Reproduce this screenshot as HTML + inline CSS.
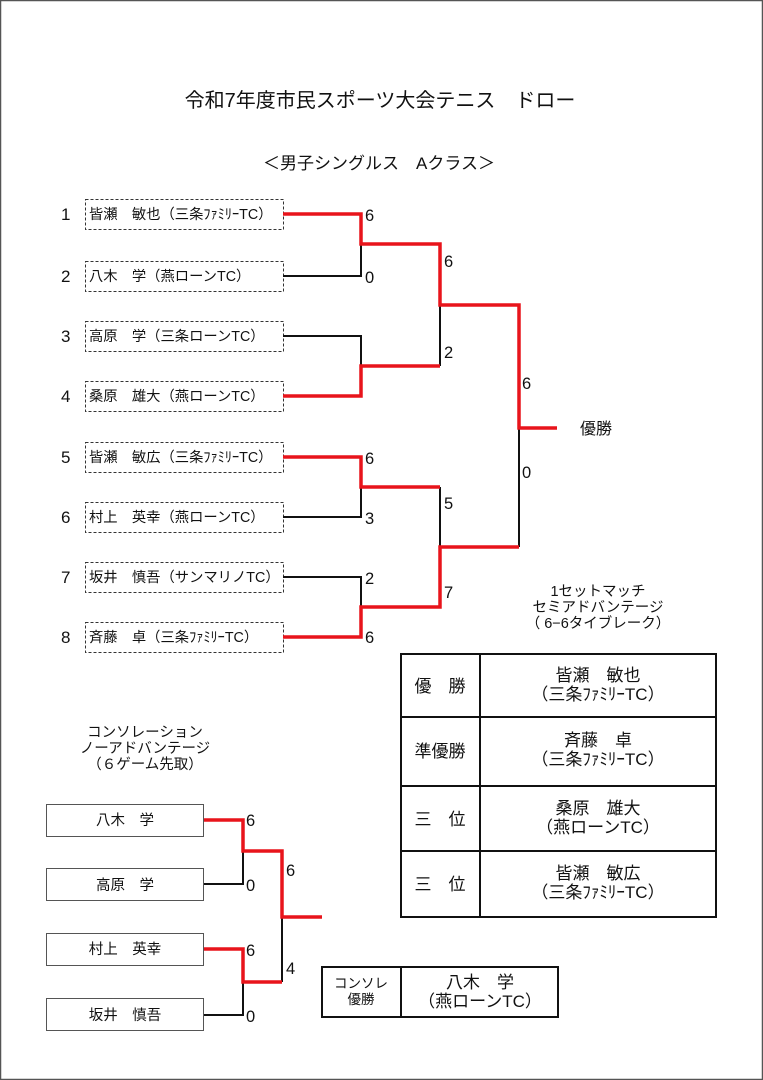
<!DOCTYPE html>
<html><head><meta charset="utf-8"><style>
html,body{margin:0;padding:0;background:#fff}
svg{display:block}
text{font-family:"Liberation Sans","Noto Sans CJK JP",sans-serif;fill:#111}
</style></head><body>
<svg width="763" height="1080" viewBox="0 0 763 1080" xmlns="http://www.w3.org/2000/svg">
<rect x="0.5" y="0.5" width="762" height="1079" fill="#fff" stroke="#555" stroke-width="1.5"/>
<text x="380" y="107" font-size="20" text-anchor="middle">令和7年度市民スポーツ大会テニス　ドロー</text>
<text x="379" y="169" font-size="17" text-anchor="middle">＜男子シングルス　Aクラス＞</text>

<g font-size="17">
<text x="61" y="220">1</text><text x="61" y="282">2</text><text x="61" y="342">3</text><text x="61" y="402">4</text>
<text x="61" y="463">5</text><text x="61" y="523">6</text><text x="61" y="583">7</text><text x="61" y="643">8</text>
</g>
<g fill="none" stroke="#333" stroke-width="1" stroke-dasharray="3,2">
<rect x="85.5" y="199.5" width="198" height="30"/>
<rect x="85.5" y="261.5" width="198" height="30"/>
<rect x="85.5" y="321.5" width="198" height="30"/>
<rect x="85.5" y="381.5" width="198" height="30"/>
<rect x="85.5" y="442.5" width="198" height="30"/>
<rect x="85.5" y="502.5" width="198" height="30"/>
<rect x="85.5" y="562.5" width="198" height="30"/>
<rect x="85.5" y="622.5" width="198" height="30"/>
</g>
<g font-size="14.3">
<text x="89" y="219">皆瀬　敏也（三条ﾌｧﾐﾘｰTC）</text>
<text x="89" y="281">八木　学（燕ローンTC）</text>
<text x="89" y="341">高原　学（三条ローンTC）</text>
<text x="89" y="401">桑原　雄大（燕ローンTC）</text>
<text x="89" y="462">皆瀬　敏広（三条ﾌｧﾐﾘｰTC）</text>
<text x="89" y="522">村上　英幸（燕ローンTC）</text>
<text x="89" y="582">坂井　慎吾（サンマリノTC）</text>
<text x="89" y="642">斉藤　卓（三条ﾌｧﾐﾘｰTC）</text>
</g>

<g fill="none" stroke="#111" stroke-width="2">
<polyline points="283,276 361,276 361,244"/>
<polyline points="283,336 361,336 361,366"/>
<polyline points="440,366 440,305"/>
<polyline points="283,517 361,517 361,487"/>
<polyline points="283,577 361,577 361,607"/>
<polyline points="440,487 440,547"/>
<polyline points="519,547 519,428"/>
<polyline points="204,884 243,884 243,851"/>
<polyline points="204,1015 243,1015 243,982"/>
<polyline points="282,982 282,917"/>
</g>
<g fill="none" stroke="#e8141b" stroke-width="3.5">
<polyline points="283,214 361,214 361,244 440,244 440,305 519,305 519,428 557,428"/>
<polyline points="283,396 361,396 361,366 440,366"/>
<polyline points="283,457 361,457 361,487 440,487"/>
<polyline points="283,637 361,637 361,607 440,607 440,547 519,547"/>
<polyline points="204,820 243,820 243,851 282,851 282,917 322,917"/>
<polyline points="204,949 243,949 243,982 282,982"/>
</g>
<g font-size="16.5">
<text x="365" y="221">6</text><text x="365" y="283">0</text>
<text x="444" y="267">6</text><text x="444" y="358">2</text>
<text x="365" y="464">6</text><text x="365" y="524">3</text>
<text x="444" y="509">5</text><text x="444" y="598">7</text>
<text x="365" y="584">2</text><text x="365" y="643">6</text>
<text x="522" y="389">6</text><text x="522" y="478">0</text>
</g>
<text x="580" y="434" font-size="16">優勝</text>

<g font-size="14.5" text-anchor="middle">
<text x="598" y="596">1セットマッチ</text>
<text x="598" y="612">セミアドバンテージ</text>
<text x="598" y="628">（ 6−6タイブレーク）</text>
</g>
<g fill="none" stroke="#111" stroke-width="2">
<rect x="401" y="654" width="315" height="263"/>
<line x1="480" y1="654" x2="480" y2="917"/>
<line x1="401" y1="717" x2="716" y2="717"/>
<line x1="401" y1="786" x2="716" y2="786"/>
<line x1="401" y1="851" x2="716" y2="851"/>
</g>
<g font-size="17">
<text x="440" y="692" text-anchor="middle">優　勝</text>
<text x="440" y="757" text-anchor="middle">準優勝</text>
<text x="440" y="825" text-anchor="middle">三　位</text>
<text x="440" y="890" text-anchor="middle">三　位</text>
<text x="598" y="681" text-anchor="middle">皆瀬　敏也</text>
<text x="598" y="700" text-anchor="middle">（三条ﾌｧﾐﾘｰTC）</text>
<text x="598" y="746" text-anchor="middle">斉藤　卓</text>
<text x="598" y="765" text-anchor="middle">（三条ﾌｧﾐﾘｰTC）</text>
<text x="598" y="814" text-anchor="middle">桑原　雄大</text>
<text x="598" y="833" text-anchor="middle">（燕ローンTC）</text>
<text x="598" y="879" text-anchor="middle">皆瀬　敏広</text>
<text x="598" y="898" text-anchor="middle">（三条ﾌｧﾐﾘｰTC）</text>
</g>

<g font-size="14.5" text-anchor="middle">
<text x="145" y="737">コンソレーション</text>
<text x="145" y="753">ノーアドバンテージ</text>
<text x="145" y="769">（６ゲーム先取）</text>
</g>
<g fill="none" stroke="#555" stroke-width="1">
<rect x="46.5" y="804.5" width="157" height="32"/>
<rect x="46.5" y="868.5" width="157" height="32"/>
<rect x="46.5" y="933.5" width="157" height="32"/>
<rect x="46.5" y="998.5" width="157" height="32"/>
</g>
<g font-size="14.5" text-anchor="middle">
<text x="125" y="825">八木　学</text>
<text x="125" y="890">高原　学</text>
<text x="125" y="954">村上　英幸</text>
<text x="125" y="1020">坂井　慎吾</text>
</g>
<g font-size="16.5">
<text x="246" y="826">6</text><text x="246" y="891">0</text>
<text x="286" y="876">6</text><text x="286" y="974">4</text>
<text x="246" y="956">6</text><text x="246" y="1022">0</text>
</g>
<g fill="none" stroke="#111" stroke-width="2">
<rect x="322" y="967" width="236" height="50"/>
<line x1="401" y1="967" x2="401" y2="1017"/>
</g>
<g text-anchor="middle">
<text x="361" y="988" font-size="13.5">コンソレ</text>
<text x="361" y="1004" font-size="13.5">優勝</text>
<text x="480" y="988" font-size="17">八木　学</text>
<text x="480" y="1007" font-size="17">（燕ローンTC）</text>
</g>
</svg>
</body></html>
